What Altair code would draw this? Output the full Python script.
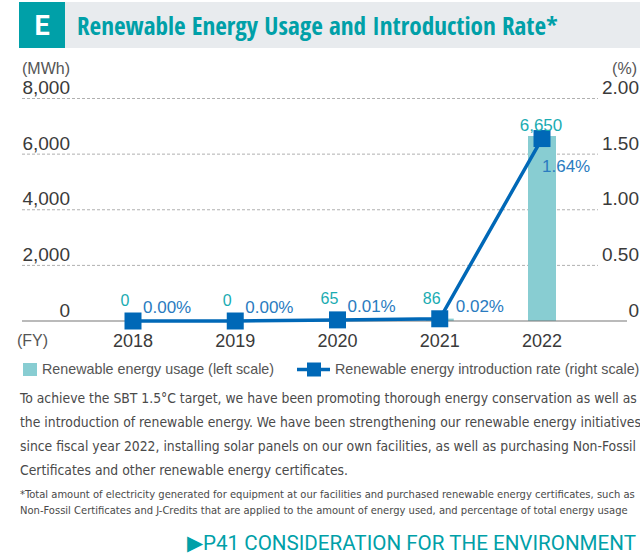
import altair as alt
import pandas as pd

# ---------------- data ----------------
years = [2018, 2019, 2020, 2021, 2022]
usage_mwh = [0, 0, 65, 86, 6650]
usage_labels = ["0", "0", "65", "86", "6,650"]
rate_pct = [0.00, 0.00, 0.01, 0.02, 1.64]

left_ticks = [0, 2000, 4000, 6000, 8000]
left_tick_labels = ["0", "2,000", "4,000", "6,000", "8,000"]
right_ticks = [0, 0.5, 1.0, 1.5, 2.0]
right_tick_labels = ["0", "0.50", "1.00", "1.50", "2.00"]

badge = "E"
title_text = "Renewable Energy Usage and Introduction Rate*"
left_unit = "(MWh)"
right_unit = "(%)"
x_unit = "(FY)"
legend_bar = "Renewable energy usage (left scale)"
legend_line = "Renewable energy introduction rate (right scale)"
body_lines = [
    "To achieve the SBT 1.5°C target, we have been promoting thorough energy conservation as well as",
    "the introduction of renewable energy. We have been strengthening our renewable energy initiatives",
    "since fiscal year 2022, installing solar panels on our own facilities, as well as purchasing Non-Fossil",
    "Certificates and other renewable energy certificates.",
]
note_lines = [
    "*Total amount of electricity generated for equipment at our facilities and purchased renewable energy certificates, such as",
    "\u00a0Non-Fossil Certificates and J-Credits that are applied to the amount of energy used, and percentage of total energy usage",
]
link_text = "▶P41 CONSIDERATION FOR THE ENVIRONMENT"

# ---------------- styles ----------------
TEAL = "#00a0a8"
BAR = "#88cdd2"
LINE = "#0068b7"
RATE_TXT = "#2a7bc0"
VAL_TXT = "#1aacb2"
DARK = "#3a3a3a"
GRAY = "#555555"
NUM_FONT = "Liberation Sans"
TITLE_FONT = "Open Sans Condensed, Roboto, sans-serif"
BODY_FONT = "DejaVu Sans Condensed, Roboto, sans-serif"
LINK_FONT = "Roboto, sans-serif"

df = pd.DataFrame({"year": years, "usage": usage_mwh, "rate": rate_pct,
                   "usage_label": usage_labels})
left_df = pd.DataFrame({"v": left_ticks, "lab": left_tick_labels})
right_df = pd.DataFrame({"v": right_ticks, "lab": right_tick_labels})
one = pd.DataFrame({"k": [0]})

X = alt.X("year:Q", scale=alt.Scale(domain=[2018, 2022], range=[128, 547]), axis=None)
YL = lambda f: alt.Y(f, scale=alt.Scale(domain=[0, 8000], range=[321, 98.5]), axis=None)
YR = lambda f: alt.Y(f, scale=alt.Scale(domain=[0, 2], range=[321, 98.5]), axis=None)


def label(txt, x, y, font=NUM_FONT, size=16, color=GRAY, align="left", weight="normal", **kw):
    return alt.Chart(one).mark_text(font=font, fontSize=size, color=color, align=align,
                                    baseline="alphabetic", fontWeight=weight, **kw).encode(
        x=alt.value(x), y=alt.value(y), text=alt.value(txt))


layers = []

# title band
layers.append(alt.Chart(one).mark_rect(color="#e8ebee").encode(
    x=alt.value(19), x2=alt.value(640), y=alt.value(2), y2=alt.value(48)))
layers.append(alt.Chart(one).mark_rect(color=TEAL).encode(
    x=alt.value(19), x2=alt.value(65), y=alt.value(2), y2=alt.value(48)))
layers.append(label(badge, 42, 35, font="Roboto", size=27, color="white", align="center", weight="bold"))
layers.append(label(title_text, 77, 35, font=TITLE_FONT, size=25.2, color=TEAL, weight="bold"))

# gridlines
layers.append(alt.Chart(left_df).transform_filter("datum.v > 0").mark_rule(
    color="#b0b0b0", strokeDash=[3, 2], strokeWidth=1).encode(
    y=YL("v:Q"), x=alt.value(22), x2=alt.value(598)))

# bars
layers.append(alt.Chart(df).mark_bar(size=28, color=BAR).encode(x=X, y=YL("usage:Q")))

# baseline
layers.append(alt.Chart(left_df).transform_filter("datum.v == 0").mark_rule(
    color="#777777", strokeWidth=1.2).encode(
    y=YL("v:Q"), x=alt.value(22), x2=alt.value(627)))

# line + squares
layers.append(alt.Chart(df).mark_line(color=LINE, strokeWidth=3.5).encode(x=X, y=YR("rate:Q")))
layers.append(alt.Chart(df).mark_square(size=289, color=LINE, opacity=1).encode(x=X, y=YR("rate:Q")))

# value labels (usage)
layers.append(alt.Chart(df).transform_filter("datum.year < 2022").mark_text(
    font=NUM_FONT, fontSize=16, color=VAL_TXT, align="center", baseline="alphabetic",
    dx=-8, dy=-15).encode(x=X, y=YL("usage:Q"), text="usage_label:N"))
layers.append(alt.Chart(df).transform_filter("datum.year == 2022").mark_text(
    font=NUM_FONT, fontSize=17, color=VAL_TXT, align="center", baseline="alphabetic",
    dx=-1, dy=-5).encode(x=X, y=YL("usage:Q"), text="usage_label:N"))

# rate labels
rate_base = alt.Chart(df).transform_calculate(
    rate_label="format(datum.rate, '.2f') + '%'")
layers.append(rate_base.transform_filter("datum.year <= 2020").mark_text(
    font=NUM_FONT, fontSize=17, color=RATE_TXT, align="left", baseline="alphabetic",
    dx=10, dy=-8).encode(x=X, y=YR("rate:Q"), text="rate_label:N"))
layers.append(rate_base.transform_filter("datum.year == 2021").mark_text(
    font=NUM_FONT, fontSize=17, color=RATE_TXT, align="left", baseline="alphabetic",
    dx=16, dy=-7).encode(x=X, y=YR("rate:Q"), text="rate_label:N"))
layers.append(rate_base.transform_filter("datum.year == 2022").mark_text(
    font=NUM_FONT, fontSize=17, color=RATE_TXT, align="left", baseline="alphabetic",
    dx=0, dy=33).encode(x=X, y=YR("rate:Q"), text="rate_label:N"))

# axis labels
layers.append(alt.Chart(left_df).mark_text(
    font=NUM_FONT, fontSize=19, color=DARK, align="right", baseline="alphabetic", dy=-4.5).encode(
    y=YL("v:Q"), x=alt.value(70), text="lab:N"))
layers.append(alt.Chart(right_df).mark_text(
    font=NUM_FONT, fontSize=19, color=DARK, align="right", baseline="alphabetic", dy=-4.5).encode(
    y=YR("v:Q"), x=alt.value(639), text="lab:N"))
layers.append(alt.Chart(df).mark_text(
    font=NUM_FONT, fontSize=18, color=DARK, align="center", baseline="alphabetic").encode(
    x=X, y=alt.value(347), text="year:N"))
layers.append(label(left_unit, 22, 74, size=16))
layers.append(label(right_unit, 637, 74, size=16, align="right"))
layers.append(label(x_unit, 17, 346, size=16))

# legend
layers.append(alt.Chart(one).mark_rect(color=BAR).encode(
    x=alt.value(23), x2=alt.value(37), y=alt.value(363), y2=alt.value(376)))
layers.append(label(legend_bar, 42, 374, size=14.3))
layers.append(alt.Chart(one).mark_rule(color=LINE, strokeWidth=3.5).encode(
    x=alt.value(297), x2=alt.value(330), y=alt.value(369.5)))
layers.append(alt.Chart(one).mark_square(color=LINE, size=196, opacity=1).encode(
    x=alt.value(314), y=alt.value(369.5)))
layers.append(label(legend_line, 335, 374, size=14.3))

# body text
layers.append(alt.Chart(one).mark_text(font=BODY_FONT, fontSize=13.8, color="#4a4a4a",
                                       align="left", baseline="alphabetic", lineHeight=24).encode(
    x=alt.value(20), y=alt.value(403), text=alt.value(body_lines)))
layers.append(alt.Chart(one).mark_text(font=BODY_FONT, fontSize=11.1, color="#4a4a4a",
                                       align="left", baseline="alphabetic", lineHeight=16).encode(
    x=alt.value(20), y=alt.value(498), text=alt.value(note_lines)))
layers.append(label(link_text, 636, 549.5, font=LINK_FONT, size=20.6, color=TEAL, align="right"))

chart = alt.layer(*layers).resolve_scale(y="independent").properties(
    width=640, height=553, padding=0,
    autosize=alt.AutoSizeParams(type="none"),
    background="white",
).configure_view(stroke=None)

chart.save("out.html", embed_options={"renderer": "svg", "actions": False})
